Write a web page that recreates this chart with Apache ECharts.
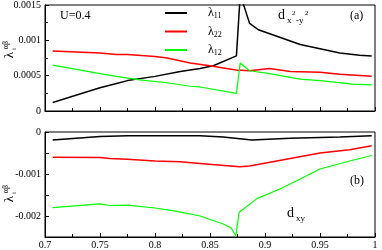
<!DOCTYPE html>
<html><head><meta charset="utf-8">
<script src="https://cdn.jsdelivr.net/npm/echarts@6/dist/echarts.min.js"></script>
<style>html,body{margin:0;padding:0;background:#fff}#c{width:382px;height:250px}</style>
</head><body><div id="c"></div>
<script>
// Panel (a): d_{x2-y2}
const xTop = [0.707, 0.75, 0.765, 0.775, 0.8, 0.823, 0.841, 0.853, 0.874, 0.8775, 0.886, 0.894, 0.914, 0.932, 0.95, 0.968, 0.986, 0.997];
const l11Top = [0.00012, 0.00033, 0.00039, 0.00043, 0.00049, 0.00056, 0.0006, 0.00064, 0.00078, 0.00165, 0.00124, 0.00115, 0.00104, 0.00094, 0.00088, 0.00082, 0.00079, 0.00078];
const xTopR = [0.707, 0.75, 0.765, 0.775, 0.8, 0.811, 0.832, 0.85, 0.862, 0.874, 0.886, 0.904, 0.923, 0.95, 0.968, 0.997];
const l22Top = [0.00085, 0.00082, 0.0008, 0.0008, 0.00077, 0.00075, 0.00068, 0.00064, 0.00061, 0.00058, 0.00057, 0.0006, 0.00056, 0.00055, 0.00052, 0.00049];
const xTopG = [0.707, 0.75, 0.765, 0.786, 0.811, 0.832, 0.841, 0.874, 0.8775, 0.886, 0.904, 0.932, 0.95, 0.98, 0.997];
const l12Top = [0.00065, 0.00053, 0.00049, 0.00044, 0.0004, 0.00035, 0.00034, 0.00025, 0.00068, 0.00057, 0.00053, 0.00045, 0.00043, 0.00038, 0.00037];
// Panel (b): d_xy
const xBotK = [0.707, 0.75, 0.775, 0.8, 0.841, 0.862, 0.888, 0.923, 0.968, 0.997];
const l11Bot = [-0.00019, -0.00011, -0.00009, -0.00009, -0.00009, -0.00012, -0.00019, -0.00015, -0.00012, -0.00009];
const xBotR = [0.707, 0.75, 0.759, 0.775, 0.8, 0.823, 0.841, 0.877, 0.886, 0.923, 0.95, 0.977, 0.997];
const l22Bot = [-0.0006, -0.00061, -0.00063, -0.00065, -0.00069, -0.00071, -0.00075, -0.00083, -0.00081, -0.00063, -0.0005, -0.00042, -0.00033];
const xBotG = [0.707, 0.75, 0.759, 0.775, 0.8, 0.816, 0.841, 0.862, 0.869, 0.8735, 0.8765, 0.893, 0.914, 0.932, 0.95, 0.977, 0.997];
const l12Bot = [-0.0018, -0.00171, -0.00175, -0.00174, -0.00181, -0.00187, -0.002, -0.00219, -0.00228, -0.00247, -0.00191, -0.00158, -0.00135, -0.00112, -0.00088, -0.00069, -0.00056];
const xTicks = ['0.7', '0.75', '0.8', '0.85', '0.9', '0.95', '1'];
const names = ['λ11', 'λ22', 'λ12'];

const zip = (xs, ys) => xs.map((x, i) => [x, ys[i]]);
const F = 'Liberation Serif, Times New Roman, serif';
const chart = echarts.init(document.getElementById('c'), null, {renderer: 'canvas'});

function xAxis(gi, showLabel) {
  return {
    type: 'value', gridIndex: gi, min: 0.7, max: 1.0, interval: 0.05,
    axisLine: {show: true, onZero: false, lineStyle: {color: '#000', width: 1}},
    axisTick: {show: true, inside: true, length: 4, lineStyle: {color: '#000'}},
    minorTick: {show: true, splitNumber: 2, length: 3, lineStyle: {color: '#000'}},
    splitLine: {show: false},
    axisLabel: {show: showLabel, color: '#000', fontFamily: F, fontSize: 10, margin: 3,
      formatter: v => { const i = Math.round((v - 0.7) / 0.05); return xTicks[i] || ''; }}
  };
}
function yAxis(gi, min, max, interval, step, minor) {
  return {
    type: 'value', gridIndex: gi, min: min, max: max, interval: interval,
    axisLine: {show: true, onZero: false, lineStyle: {color: '#000', width: 1}},
    axisTick: {show: true, inside: true, length: 4, lineStyle: {color: '#000'}},
    minorTick: {show: minor, splitNumber: 2, length: 3, lineStyle: {color: '#000'}},
    splitLine: {show: false},
    axisLabel: {color: '#000', fontFamily: F, fontSize: 10, margin: 4,
      formatter: v => { const r = v / step; if (Math.abs(r - Math.round(r)) > 1e-6) return ''; return v === 0 ? '0' : String(+v.toPrecision(6)); }}
  };
}
function line(name, xi, data, color, w) {
  return {name: name, type: 'line', xAxisIndex: xi, yAxisIndex: xi, data: data, showSymbol: false, symbol: 'none',
    lineStyle: {color: color, width: w}, itemStyle: {color: color}, clip: true, animation: false, z: 3};
}
function ylabel(cy) {
  return {type: 'group', x: 10, y: cy, rotation: Math.PI / 2, children: [
    {type: 'text', x: 0, y: 0, style: {text: 'λ', font: '13px ' + F, fill: '#000', textAlign: 'center', textVerticalAlign: 'middle'}},
    {type: 'text', x: 6, y: 4, style: {text: 'i', font: '7px ' + F, fill: '#000', textAlign: 'center', textVerticalAlign: 'middle'}},
    {type: 'text', x: 10, y: -4, style: {text: 'αβ', font: '8px ' + F, fill: '#000', textAlign: 'center', textVerticalAlign: 'middle'}}
  ]};
}
const T = (t, x, y, size, extra) => Object.assign({type: 'text', x: x, y: y, style: {text: t, font: size + 'px ' + F, fill: '#000'}}, extra || {});

chart.setOption({
  animation: false,
  grid: [
    {left: 45, right: 7, top: 3, height: 108, show: true, borderColor: '#000', borderWidth: 1},
    {left: 45, right: 7, top: 132, height: 107, show: true, borderColor: '#000', borderWidth: 1}
  ],
  xAxis: [xAxis(0, false), xAxis(1, true)],
  yAxis: [yAxis(0, 0, 0.0015, 0.0005, 0.0005, true), yAxis(1, -0.0025, 0, 0.0005, 0.001, false)],
  legend: {
    orient: 'vertical', left: 165, top: 7, padding: 0, itemWidth: 22, itemHeight: 2, itemGap: 5.5, icon: 'rect',
    data: names,
    formatter: n => '{l|λ}{s|' + n.slice(1) + '}',
    textStyle: {color: '#000', fontFamily: F, padding: [0, 0, 0, 16],
      rich: {l: {fontSize: 12, fontFamily: F, color: '#000'}, s: {fontSize: 8, fontFamily: F, color: '#000', padding: [6, 0, 0, 0]}}}
  },
  series: [
    line(names[0], 0, zip(xTop, l11Top), '#000000', 1.5),
    line(names[1], 0, zip(xTopR, l22Top), '#ff0000', 1.5),
    line(names[2], 0, zip(xTopG, l12Top), '#00ff00', 1.2),
    line(names[0], 1, zip(xBotK, l11Bot), '#000000', 1.5),
    line(names[1], 1, zip(xBotR, l22Bot), '#ff0000', 1.5),
    line(names[2], 1, zip(xBotG, l12Bot), '#00ff00', 1.2)
  ],
  graphic: [
    ylabel(55), ylabel(199),
    T('U=0.4', 60, 10, 12),
    T('(a)', 350, 10, 12),
    T('(b)', 350, 175, 12),
    T('d', 278, 8, 14),
    T('x', 287, 16, 9),
    T('2', 292, 10, 7),
    T('-y', 296, 16, 9),
    T('2', 305, 10, 7),
    T('d', 287, 206, 14),
    T('xy', 296, 214, 9)
  ]
});
</script></body></html>
